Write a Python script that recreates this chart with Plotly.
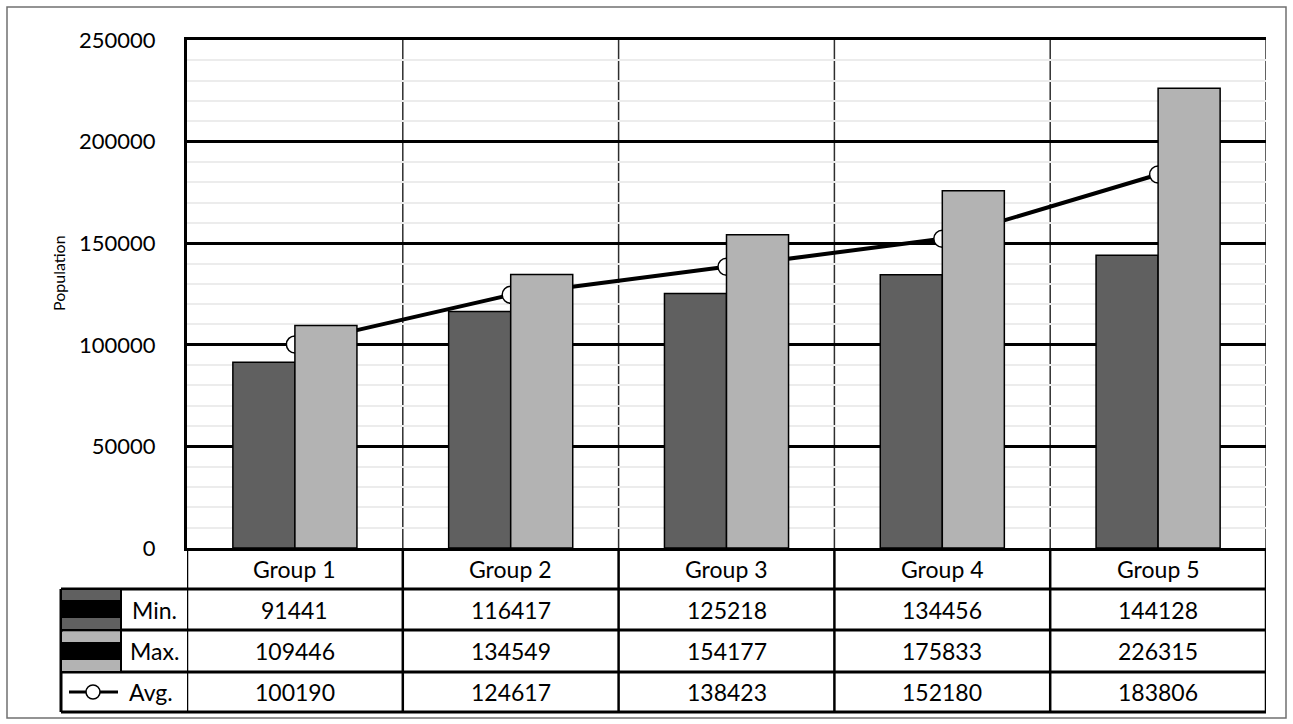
import plotly.graph_objects as go

# ---- data ----
groups = ["Group 1", "Group 2", "Group 3", "Group 4", "Group 5"]
min_vals = [91441, 116417, 125218, 134456, 144128]
max_vals = [109446, 134549, 154177, 175833, 226315]
avg_vals = [100190, 124617, 138423, 152180, 183806]
row_names = ["Min.", "Max.", "Avg."]

FONT = "Lato"
DARK = "#606060"
LIGHT = "#b3b3b3"

# plot area in pixels
L, R, T, B = 187, 1266, 40, 548
W, H = R - L, B - T


def px_x(p):
    return (p - L) / W


def px_y(p):
    return (B - p) / H


fig = go.Figure()

# average line sits on the base axis so the bars (overlay axis) are drawn above it
fig.add_trace(go.Scatter(
    x=groups, y=avg_vals, mode="lines+markers", name="Avg.",
    line=dict(color="black", width=4),
    marker=dict(symbol="circle", size=17, color="white",
                line=dict(color="black", width=1.5)),
    yaxis="y", showlegend=False,
))
fig.add_trace(go.Bar(
    x=groups, y=min_vals, name="Min.", marker_color=DARK,
    marker_line=dict(color="black", width=1.5), yaxis="y2", showlegend=False,
))
fig.add_trace(go.Bar(
    x=groups, y=max_vals, name="Max.", marker_color=LIGHT,
    marker_line=dict(color="black", width=1.5), yaxis="y2", showlegend=False,
))

shapes = []
annotations = []

# category separators inside the plot (under the gridlines, so these break them up)
for i in range(5):
    shapes.append(dict(type="line", xref="x", yref="paper", x0=i + 0.5, x1=i + 0.5,
                       y0=0, y1=1, line=dict(color="#2e2e2e", width=1.5), layer="below"))

# data table below the axis
rows_y = [548, 589, 630, 672, 712]
for yy in rows_y[1:]:
    shapes.append(dict(type="line", xref="paper", yref="paper", x0=px_x(61), x1=1,
                       y0=px_y(yy), y1=px_y(yy), line=dict(color="black", width=3)))
for i in range(6):
    shapes.append(dict(type="line", xref="x", yref="paper", x0=i - 0.5, x1=i - 0.5,
                       y0=px_y(548), y1=px_y(712), line=dict(color="black", width=2.5)))
shapes.append(dict(type="line", xref="paper", yref="paper", x0=px_x(61), x1=px_x(61),
                   y0=px_y(589), y1=px_y(712), line=dict(color="black", width=3)))
shapes.append(dict(type="line", xref="paper", yref="paper", x0=px_x(121), x1=px_x(121),
                   y0=px_y(589), y1=px_y(672), line=dict(color="black", width=2)))

# legend keys
for top, colour in ((590, DARK), (632, LIGHT)):
    shapes.append(dict(type="rect", xref="paper", yref="paper", x0=px_x(62), x1=px_x(120),
                       y0=px_y(top), y1=px_y(top + 39), fillcolor=colour, line_width=0))
    shapes.append(dict(type="rect", xref="paper", yref="paper", x0=px_x(62), x1=px_x(120),
                       y0=px_y(top + 10), y1=px_y(top + 28), fillcolor="black", line_width=0))
shapes.append(dict(type="line", xref="paper", yref="paper", x0=px_x(69), x1=px_x(118),
                   y0=px_y(692), y1=px_y(692), line=dict(color="black", width=3)))
shapes.append(dict(type="circle", xref="paper", yref="paper", x0=px_x(86), x1=px_x(100),
                   y0=px_y(685), y1=px_y(699), fillcolor="white",
                   line=dict(color="black", width=1.5)))

# outer frame
shapes.append(dict(type="rect", xref="paper", yref="paper", x0=px_x(7), x1=px_x(1286),
                   y0=px_y(7), y1=px_y(718), line=dict(color="#707070", width=1.5),
                   fillcolor="rgba(0,0,0,0)"))

tfont = dict(family=FONT, size=23, color="black")
row_centres = [(rows_y[k] + rows_y[k + 1]) / 2 for k in range(4)]


def cell_text(x, y, text, xref="x", **kw):
    annotations.append(dict(x=x, y=y, xref=xref, yref="paper", text=text, showarrow=False,
                            xanchor="center", yanchor="middle", font=tfont, **kw))


for i, g in enumerate(groups):
    cell_text(i, px_y(row_centres[0]), g)
    for k, series in enumerate((min_vals, max_vals, avg_vals)):
        cell_text(i, px_y(row_centres[k + 1]), str(series[i]))
label_x = [154, 154, 151]
for k, name in enumerate(row_names):
    cell_text(px_x(label_x[k]), px_y(row_centres[k + 1]), name, xref="paper")

# axis title
annotations.append(dict(x=px_x(58), y=px_y(273), xref="paper", yref="paper",
                        text="Population", textangle=-90, showarrow=False,
                        xanchor="center", yanchor="middle",
                        font=dict(family=FONT, size=16, color="black")))

fig.update_layout(
    width=1293, height=724,
    margin=dict(l=L, r=1293 - R, t=T, b=724 - B, pad=0),
    paper_bgcolor="white", plot_bgcolor="white",
    barmode="group", bargap=0.425, bargroupgap=0,
    font=dict(family=FONT, color="black"),
    xaxis=dict(type="category", range=[-0.5, 4.5], showticklabels=False, ticks="",
               showgrid=False, showline=True, linecolor="black", linewidth=3, mirror=True,
               zeroline=False),
    yaxis=dict(range=[0, 250000], dtick=50000, tick0=0, showgrid=True, gridcolor="black",
               gridwidth=3, minor=dict(dtick=10000, showgrid=True, gridcolor="#ececec",
                                       gridwidth=2),
               showline=True, linecolor="black", linewidth=3, zeroline=False,
               ticks="", ticklabelstandoff=24, tickformat="d",
               tickfont=dict(family=FONT, size=22, color="black")),
    yaxis2=dict(range=[0, 250000], overlaying="y", side="left", showgrid=False,
                showticklabels=False, ticks="", showline=False, zeroline=False),
    shapes=shapes,
    annotations=annotations,
)

fig.write_html("out.html")
